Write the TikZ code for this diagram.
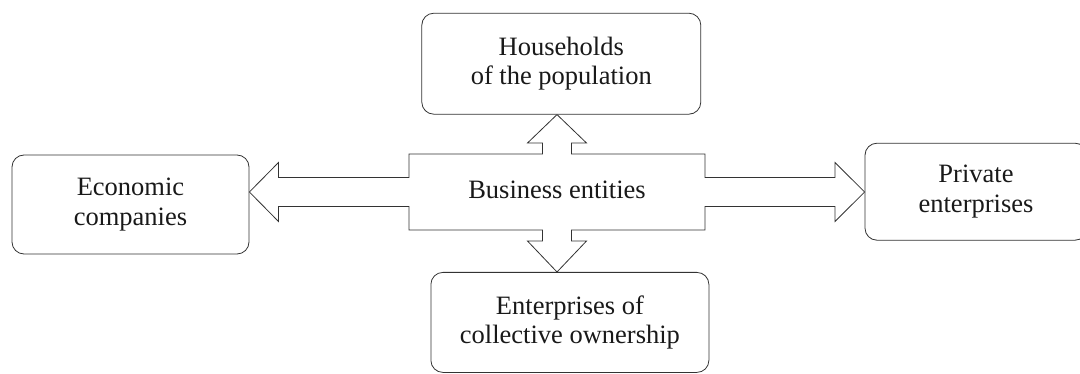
\documentclass[tikz,border=0pt]{standalone}
\usepackage{fontspec}
\setmainfont{Liberation Serif}
\usetikzlibrary{calc}

\begin{document}
\begin{tikzpicture}[x=1pt,y=-1pt,
	box/.style={rectangle,draw=black!80,line width=0.8pt,rounded corners=12pt,align=center,inner sep=0pt,font=\fontsize{26.5}{29.5}\selectfont,text=black!90},
	blockarrow/.style={draw=black!80,line width=0.8pt,fill=white,line join=miter}]

	\useasboundingbox (0,0) rectangle (1080,374);

	% boxes round the centre

	\node[box,minimum width=237pt,minimum height=99pt] (econ) at (130.5,204.5) {Economic\\companies};
	\node[box,minimum width=279pt,minimum height=101pt] (house) at (561.3,63.7) {Households\\of the population};
	\node[box,minimum width=278pt,minimum height=100pt] (enter) at (569.9,322.4) {Enterprises of\\collective ownership};
	\node[box,minimum width=222pt,minimum height=97pt] (priv) at (976,191.7) {Private\\enterprises};

	% block arrows

	\coordinate (mid) at (557,192);
	\draw[blockarrow] (409,154) -- (542.5,154) -- (542.5,143) -- (527.5,143) -- (mid |- house.south)
		-- (586.5,143) -- (571.5,143) -- (571.5,154) -- (705,154) -- (705,177.5) -- (835,177.5)
		-- (835,162.5) -- (priv.west |- mid) -- (835,221.5) -- (835,206.5) -- (705,206.5)
		-- (705,230) -- (571.5,230) -- (571.5,241) -- (586.5,241) -- (mid |- enter.north)
		-- (527.5,241) -- (542.5,241) -- (542.5,230) -- (409,230) -- (409,206.5) -- (278.5,206.5)
		-- (278.5,221.5) -- (econ.east |- mid) -- (278.5,162.5) -- (278.5,177.5) -- (409,177.5) -- cycle;

	\node[font=\fontsize{26.5}{29.5}\selectfont,text=black!90] (ent) at (557,190) {Business entities};

\end{tikzpicture}
\end{document}
